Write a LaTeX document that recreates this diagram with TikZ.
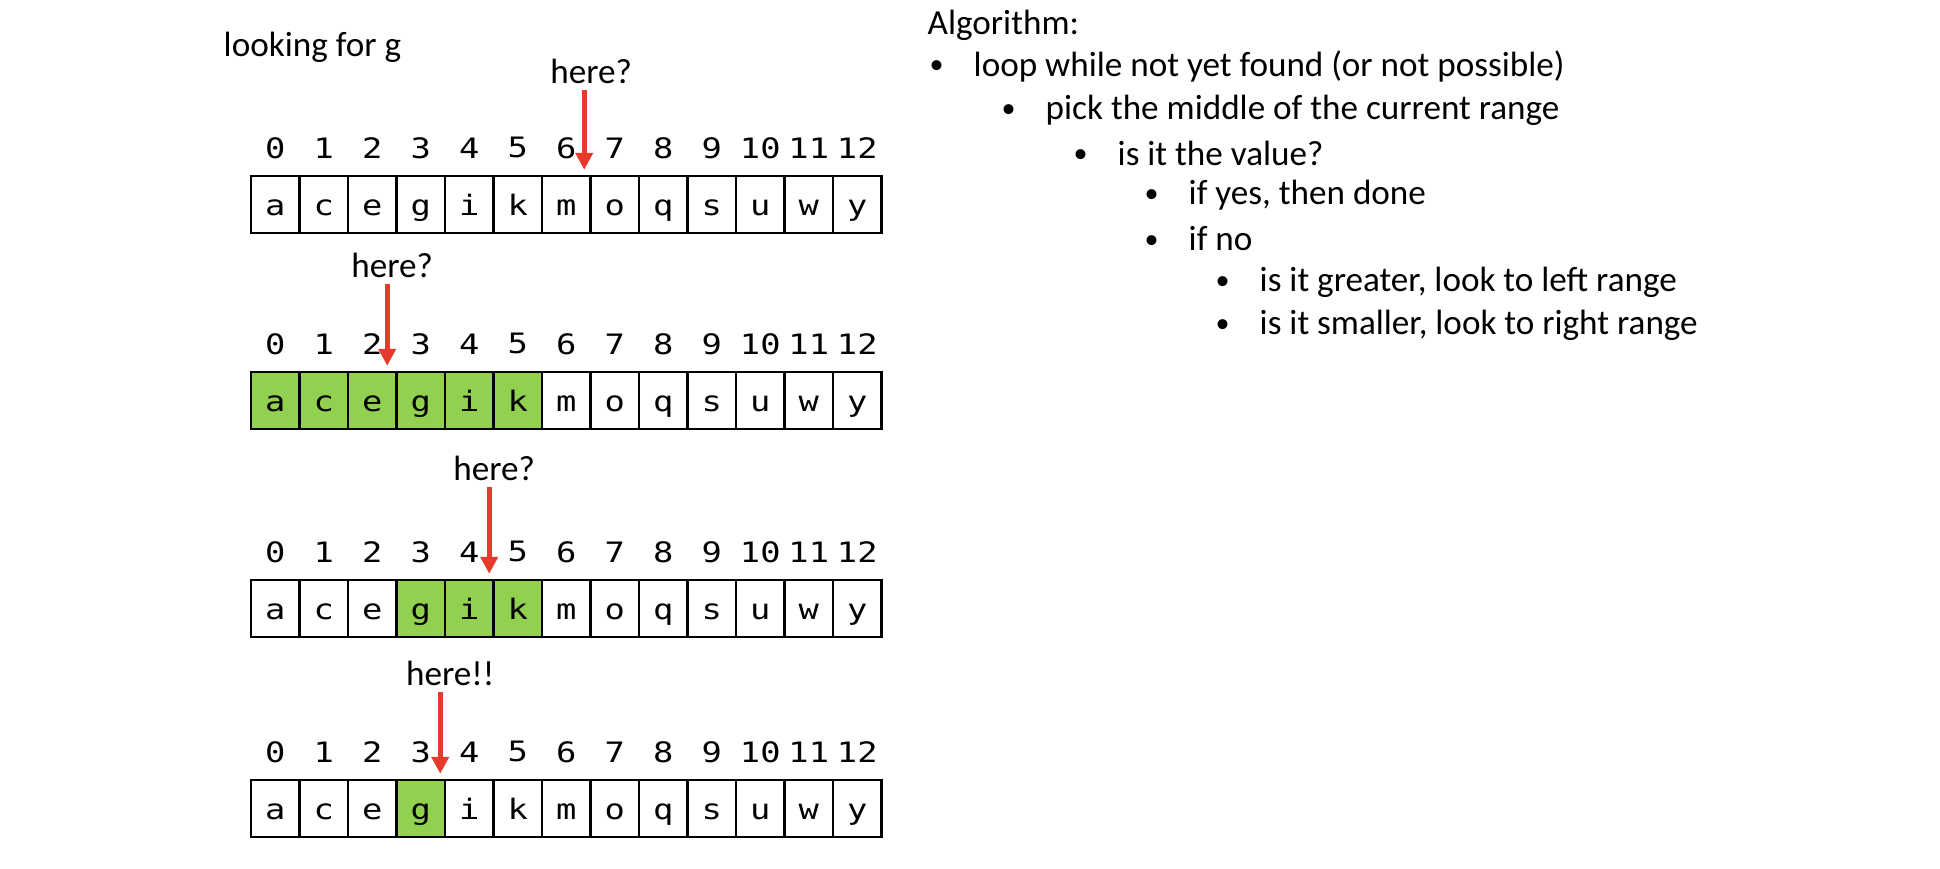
\documentclass[tikz,border=0pt]{standalone}
\usepackage{fontspec}
\setmainfont{Carlito}
\newfontfamily\cellfont[FakeStretch=1.2]{DejaVu Sans Mono}
\usetikzlibrary{arrows.meta}
\definecolor{hitgreen}{HTML}{92D050}
\definecolor{pointred}{HTML}{E53A2C}
\newcommand\blt{\makebox[0.44cm][l]{\raisebox{0.6pt}{\fontsize{8}{8}\selectfont\textbullet}}}

\begin{document}
\begin{tikzpicture}[
  cell/.style={rectangle, draw, line width=0.7pt, minimum width=0.485cm,
               minimum height=0.57cm, inner sep=0pt, text height=0.28cm, text depth=0.07cm,
               font=\cellfont\fontsize{8}{9}\selectfont},
  idx/.style={inner sep=0pt, font=\cellfont\fontsize{8}{9}\selectfont},
  txt/.style={inner sep=0pt, anchor=west, font=\fontsize{10}{12}\selectfont},
  here/.style={inner sep=1pt, font=\fontsize{10}{12}\selectfont},
  pointer/.style={-{Triangle[length=0.17cm, width=0.17cm]}, line width=1.4pt,
                  draw=pointred, fill=pointred, shorten <=0.02cm}
]
  \useasboundingbox (0,0) rectangle (19.4,-8.68);

  \node[txt] (goal) at (2.23,-0.47) {looking for g};

  % the four search steps, green = range still in play
  \foreach \r/\top/\lo/\hi in {1/1.76/99/99, 2/3.72/0/5, 3/5.80/3/5, 4/7.80/3/3} {
    \foreach \ch [count=\i from 0] in {a,c,e,g,i,k,m,o,q,s,u,w,y} {
      \pgfmathtruncatemacro\g{100*and(\i>=\lo,\i<=\hi)}
      \node[cell, fill=hitgreen!\g!white] (c\r-\i) at ({2.51+0.485*(\i+0.5)},{-\top-0.285}) {\ch};
      \node[idx] (n\r-\i) at ([yshift=0.27cm]c\r-\i.north) {\i};
    }
  }

  \coordinate (t1) at ([xshift=-0.075cm, yshift=0.05cm]c1-6.north east);
  \coordinate (t2) at ([xshift=-0.105cm, yshift=0.05cm]c2-2.north east);
  \coordinate (t3) at ([xshift=-0.055cm, yshift=0.05cm]c3-4.north east);
  \coordinate (t4) at ([xshift=-0.06cm, yshift=0.05cm]c4-3.north east);

  \node[here] (h1) at ([shift={(0.07,0.985)}]t1) {here?};
  \node[here] (h2) at ([shift={(0.05,1.00)}]t2) {here?};
  \node[here] (h3) at ([shift={(0.05,1.05)}]t3) {here?};
  \node[here] (h4) at ([shift={(0.10,1.00)}]t4) {here!!};

  \draw[pointer] (h1.south -| t1) -- (t1);
  \draw[pointer] (h2.south -| t2) -- (t2);
  \draw[pointer] (h3.south -| t3) -- (t3);
  \draw[pointer] (h4.south -| t4) -- (t4);

  % algorithm outline
  \node[txt] (algo) at (9.27,-0.25) {Algorithm:};
  \node[txt] (l1) at (9.29,-0.66) {\blt loop while not yet found (or not possible)};
  \node[txt] (l2) at (10.01,-1.10) {\blt pick the middle of the current range};
  \node[txt] (l3) at (10.73,-1.53) {\blt is it the value?};
  \node[txt] (l4) at (11.44,-1.95) {\blt if yes, then done};
  \node[txt] (l5) at (11.44,-2.39) {\blt if no};
  \node[txt] (l6) at (12.15,-2.82) {\blt is it greater, look to left range};
  \node[txt] (l7) at (12.15,-3.25) {\blt is it smaller, look to right range};
\end{tikzpicture}
\end{document}
